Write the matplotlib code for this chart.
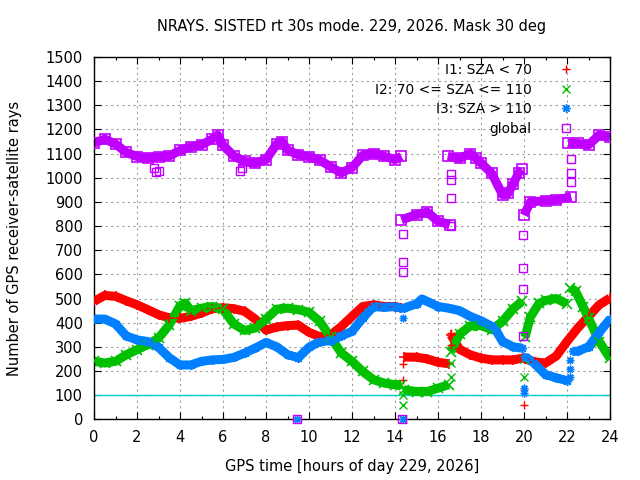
import numpy as np
import matplotlib
matplotlib.use("Agg")
import matplotlib.pyplot as plt
from matplotlib.ticker import MultipleLocator

nan = np.nan

# ---- data (hours, number of rays); nan separates segments ----
t_i1 = [0, .5, 1, 1.5, 2, 2.5, 3, 3.5, 4, 4.5, 5, 5.5, 6, 6.5, 7, 7.5, 8, 8.5, 9, 9.5, 10, 10.5, 11, 11.5, 12, 12.5, 13, 13.5, 14, 14.3, nan,
        14.4, 15, 15.5, 16, 16.5, nan,
        16.6, 17, 17.5, 18, 18.5, 19, 19.5, 19.95, nan,
        20.05, 20.5, 21, 21.5, 22, 22.5, 23, 23.5, 24]
v_i1 = [488, 513, 509, 491, 474, 454, 433, 420, 418, 426, 440, 458, 462, 458, 447, 415, 369, 382, 388, 390, 360, 342, 348, 384, 426, 467, 474, 467, 467, 460, nan,
        258, 257, 250, 236, 230, nan,
        350, 290, 267, 253, 246, 246, 246, 253, nan,
        250, 238, 233, 262, 322, 378, 426, 474, 502]

t_i2 = [0, .5, 1, 1.5, 2, 2.5, 3, 3.5, 4, 4.25, 4.5, 5, 5.5, 6, 6.5, 7, 7.5, 8, 8.5, 9, 9.5, 10, 10.5, 11, 11.5, 12, 12.5, 13, 13.5, 14, 14.3, nan,
        14.4, 15, 15.5, 16, 16.5, nan,
        16.6, 17, 17.5, 18, 18.5, 19, 19.5, 19.9, nan,
        20.05, 20.3, 20.7, 21, 21.5, 22, nan,
        22.15, 22.4, 22.75, 23, 23.5, 24]
v_i2 = [240, 233, 240, 267, 288, 309, 336, 391, 470, 481, 450, 460, 467, 455, 395, 368, 378, 415, 456, 460, 454, 443, 405, 340, 275, 240, 198, 164, 150, 143, 143, nan,
        122, 115, 115, 129, 143, nan,
        280, 352, 387, 388, 371, 405, 458, 488, nan,
        340, 424, 480, 492, 500, 478, nan,
        545, 530, 466, 419, 322, 253]

t_i3 = [0, .5, 1, 1.5, 2, 2.5, 3, 3.5, 4, 4.5, 5, 5.5, 6, 6.5, 7, 7.5, 8, 8.5, 9, 9.5, 10, 10.5, 11, 11.5, 12, 12.5, 13, 13.5, 14, 14.3, nan,
        14.4, 15, 15.25, 15.5, 16, 16.5, 17, 17.5, 18, 18.5, 18.75, 19, 19.5, 19.9, nan,
        20.05, 20.5, 21, 21.5, 22, nan,
        22.3, 22.5, 23, 23.5, 24]
v_i3 = [415, 415, 395, 345, 329, 322, 298, 255, 225, 225, 240, 246, 248, 256, 274, 295, 318, 300, 268, 255, 298, 322, 325, 345, 364, 419, 467, 463, 467, 460, nan,
        460, 478, 498, 488, 467, 460, 450, 426, 408, 385, 360, 322, 300, 295, nan,
        260, 230, 185, 172, 160, nan,
        281, 282, 300, 360, 415]

t_gl = [0, .5, 1, 1.5, 2, 2.5, 3, 3.5, 4, 4.5, 5, 5.5, 5.75, 6, 6.5, 7, 7.5, 8, 8.5, 8.75, 9, 9.5, 10, 10.5, 11, 11.5, 12, 12.5, 13, 13.5, 14, 14.3, nan,
        14.3, 15, 15.5, 16, 16.55, nan,
        16.45, 17, 17.5, 17.75, 18, 18.5, 19, 19.25, 19.5, 19.75, 19.9, nan,
        20.0, 20.3, 21, 21.5, 22.2, nan,
        22.05, 22.5, 23, 23.5, 24]
v_gl = [1144, 1160, 1140, 1105, 1088, 1081, 1087, 1090, 1113, 1128, 1136, 1160, 1177, 1135, 1090, 1068, 1060, 1075, 1140, 1150, 1115, 1095, 1087, 1073, 1046, 1020, 1042, 1093, 1100, 1089, 1075, 1089, nan,
        826, 847, 858, 820, 806, nan,
        1089, 1080, 1100, 1082, 1061, 1018, 930, 935, 975, 1020, 1035, nan,
        845, 900, 905, 908, 921, nan,
        1142, 1142, 1136, 1177, 1168]

# isolated epochs
o1_t = [14.35, 14.35, 16.6, 16.6, 19.98, 19.98]
o1_v = [228, 163, 306, 357, 122, 60]
o2_t = [14.35, 14.35, 14.35, 16.6, 16.6, 19.98, 19.98]
o2_v = [60, 0, 100, 233, 177, 177, 250]
o3_t = [9.42, 14.35, 19.98, 19.98, 22.15, 22.15, 22.15, 14.35]
o3_v = [0, 0, 108, 130, 245, 210, 175, 420]
og_t = [2.8, 2.9, 3.0, 6.8, 6.9, 9.42, 14.33, 14.35, 14.35, 14.35, 16.6, 16.6, 16.6, 16.6, 19.95, 19.95, 19.95, 19.95, 22.2, 22.2, 22.2]
og_v = [1040, 1025, 1030, 1028, 1040, 0, 0, 767, 651, 611, 1016, 992, 916, 800, 764, 626, 539, 343, 1078, 1020, 983]

labels = ["I1: SZA < 70", "I2: 70 <= SZA <= 110", "I3: SZA > 110", "global"]
colors = ["#ff0000", "#00c000", "#0080ff", "#c000ff"]

title = "NRAYS. SISTED rt 30s mode. 229, 2026. Mask 30 deg"
xlabel = "GPS time [hours of day 229, 2026]"
ylabel = "Number of GPS receiver-satellite rays"

plt.rcParams['font.family'] = ['DejaVu Sans']
fs = 10.5
lfs = 9.9
fig = plt.figure(figsize=(6.4, 4.8), dpi=100)
ax = fig.add_axes([94 / 640, 1 - 419.3 / 480, 516 / 640, 362.3 / 480])

ax.axhline(100, color="#00d0d0", lw=1.0, zorder=1)

ASTER = (8, 2, 0)
series = [(t_i1, v_i1, o1_t, o1_v, '+'), (t_i2, v_i2, o2_t, o2_v, 'x'),
          (t_i3, v_i3, o3_t, o3_v, ASTER), (t_gl, v_gl, og_t, og_v, 's')]
for (t, v, ot, ov, m), c, lab in zip(series, colors, labels):
    ax.plot(t, v, color=c, lw=6.5, solid_capstyle='butt', solid_joinstyle='round', zorder=2)
    mfc = 'none' if m == 's' else c
    ax.plot(t, v, linestyle='none', marker=m, ms=6.5, mew=1.2, color=c, mfc=mfc, zorder=3)
    ax.plot(ot, ov, linestyle='none', marker=m, ms=5.5, mew=1.0, color=c, mfc=mfc, zorder=3,
            clip_on=False, label=lab)

ax.set_xlim(0, 24)
ax.set_ylim(0, 1500)
ax.xaxis.set_major_locator(MultipleLocator(2))
ax.xaxis.set_minor_locator(MultipleLocator(1))
ax.yaxis.set_major_locator(MultipleLocator(100))
ax.grid(True, which='major', color='#a0a0a0', linestyle=(0, (2, 3)), lw=0.8)
ax.set_axisbelow(True)
ax.tick_params(which='both', direction='in', top=True, right=True, labelsize=fs, color='black')
ax.tick_params(which='major', length=5, width=0.8)
ax.tick_params(which='minor', length=2.5, width=0.8)
ax.tick_params(axis='y', pad=8)
ax.tick_params(axis='x', pad=8)
for s in ax.spines.values():
    s.set_linewidth(1.0)

fig.text(352 / 640, 1 - 27 / 480, title, ha='center', va='center', fontsize=fs)
fig.text(352 / 640, 1 - 467 / 480, xlabel, ha='center', va='center', fontsize=fs)
fig.text(15 / 640, 1 - 238 / 480, ylabel, ha='center', va='center', rotation=90, fontsize=fs)

leg = ax.legend(loc='upper right', bbox_to_anchor=(573 / 640, 1 - 63 / 480),
                bbox_transform=fig.transFigure, frameon=False, markerfirst=False,
                fontsize=lfs, handlelength=1.0, handletextpad=2.0, labelspacing=0.40,
                borderpad=0, borderaxespad=0)
for h in leg.legend_handles:
    h.set_markersize(6)

fig.savefig("out.png", dpi=100)
